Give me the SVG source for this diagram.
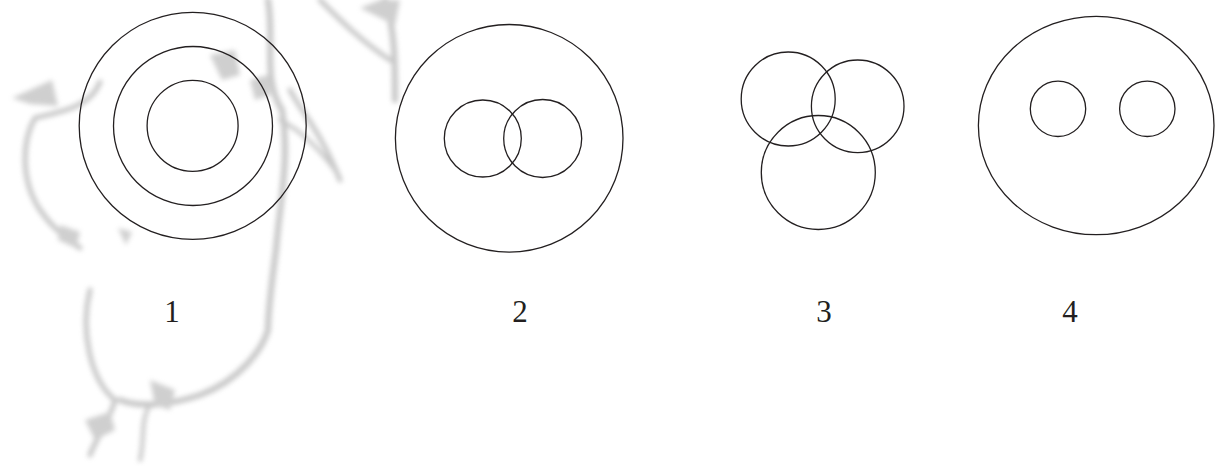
<svg xmlns="http://www.w3.org/2000/svg" width="1216" height="466" viewBox="0 0 1216 466">
<style>
.c{fill:none;stroke:#231f20;stroke-width:1.3}
.t{font-family:"Liberation Serif","Times New Roman",serif;font-size:31px;fill:#231f20;text-anchor:middle}
.bg{fill:none;stroke:#9a9a9a;stroke-linecap:round;stroke-linejoin:round}
.bf{fill:#a8a8a8;stroke:none}
</style>
<defs>
<filter id="blur" x="-20%" y="-20%" width="140%" height="140%"><feGaussianBlur stdDeviation="2.5"/></filter>
</defs>
<rect width="1216" height="466" fill="#fff"/>
<g id="background" filter="url(#blur)" opacity="0.55">
<path class="bf" d="M12,98 L52,80 L58,106 L30,104 Z"/>
<path class="bg" stroke-width="5" d="M100,82 C90,108 60,112 35,118 C22,140 20,180 40,210 C55,232 70,240 80,248"/>
<path class="bg" stroke-width="6" d="M268,0 C275,40 262,80 282,110 C290,160 280,200 276,250 C272,280 268,310 268,330 C262,350 240,380 200,395 C170,405 140,408 120,400"/>
<path class="bg" stroke-width="5" d="M90,290 C80,330 90,380 115,400 C110,420 95,440 90,455"/>
<path class="bf" d="M210,55 L235,50 L240,75 L222,80 Z"/>
<path class="bf" d="M250,80 L268,75 L270,95 L255,100 Z"/>
<path class="bf" d="M60,225 L80,232 L76,248 L58,240 Z"/>
<path class="bf" d="M118,228 L132,232 L126,245 Z"/>
<path class="bf" d="M150,380 L175,390 L170,410 L155,405 Z"/>
<path class="bf" d="M85,420 L110,412 L115,430 L95,440 Z"/>
<path class="bg" stroke-width="5" d="M290,90 C300,110 320,130 340,180"/>
<path class="bg" stroke-width="5" d="M320,0 C340,20 360,40 390,60"/>
<path class="bg" stroke-width="6" d="M385,0 C395,30 395,60 395,100"/>
<path class="bf" d="M360,8 L380,0 L400,0 L395,25 Z"/>
<path class="bg" stroke-width="4" d="M280,120 C300,130 320,150 335,170"/>
<path class="bg" stroke-width="4" d="M140,460 C145,440 140,420 150,405"/>
</g>
<g id="figure1">
<circle class="c" cx="192.7" cy="125.8" r="113.5"/>
<circle class="c" cx="193" cy="126" r="79.5"/>
<circle class="c" cx="192.6" cy="125.8" r="45.5"/>
<text class="t" x="172" y="322">1</text>
</g>
<g id="figure2">
<circle class="c" cx="509.2" cy="138.3" r="113.8"/>
<circle class="c" cx="482.8" cy="138.5" r="38.5"/>
<circle class="c" cx="542.7" cy="138.5" r="39"/>
<text class="t" x="520" y="322">2</text>
</g>
<g id="figure3">
<circle class="c" cx="788.2" cy="99" r="47"/>
<circle class="c" cx="857.7" cy="106.3" r="46.3"/>
<circle class="c" cx="818.3" cy="172.5" r="57"/>
<text class="t" x="824" y="322">3</text>
</g>
<g id="figure4">
<ellipse class="c" cx="1096.2" cy="125.5" rx="117.8" ry="109.2"/>
<circle class="c" cx="1058" cy="108.8" r="27.7"/>
<circle class="c" cx="1147.3" cy="108.8" r="27.7"/>
<text class="t" x="1070" y="322">4</text>
</g>
<g id="connectors"/>
</svg>
